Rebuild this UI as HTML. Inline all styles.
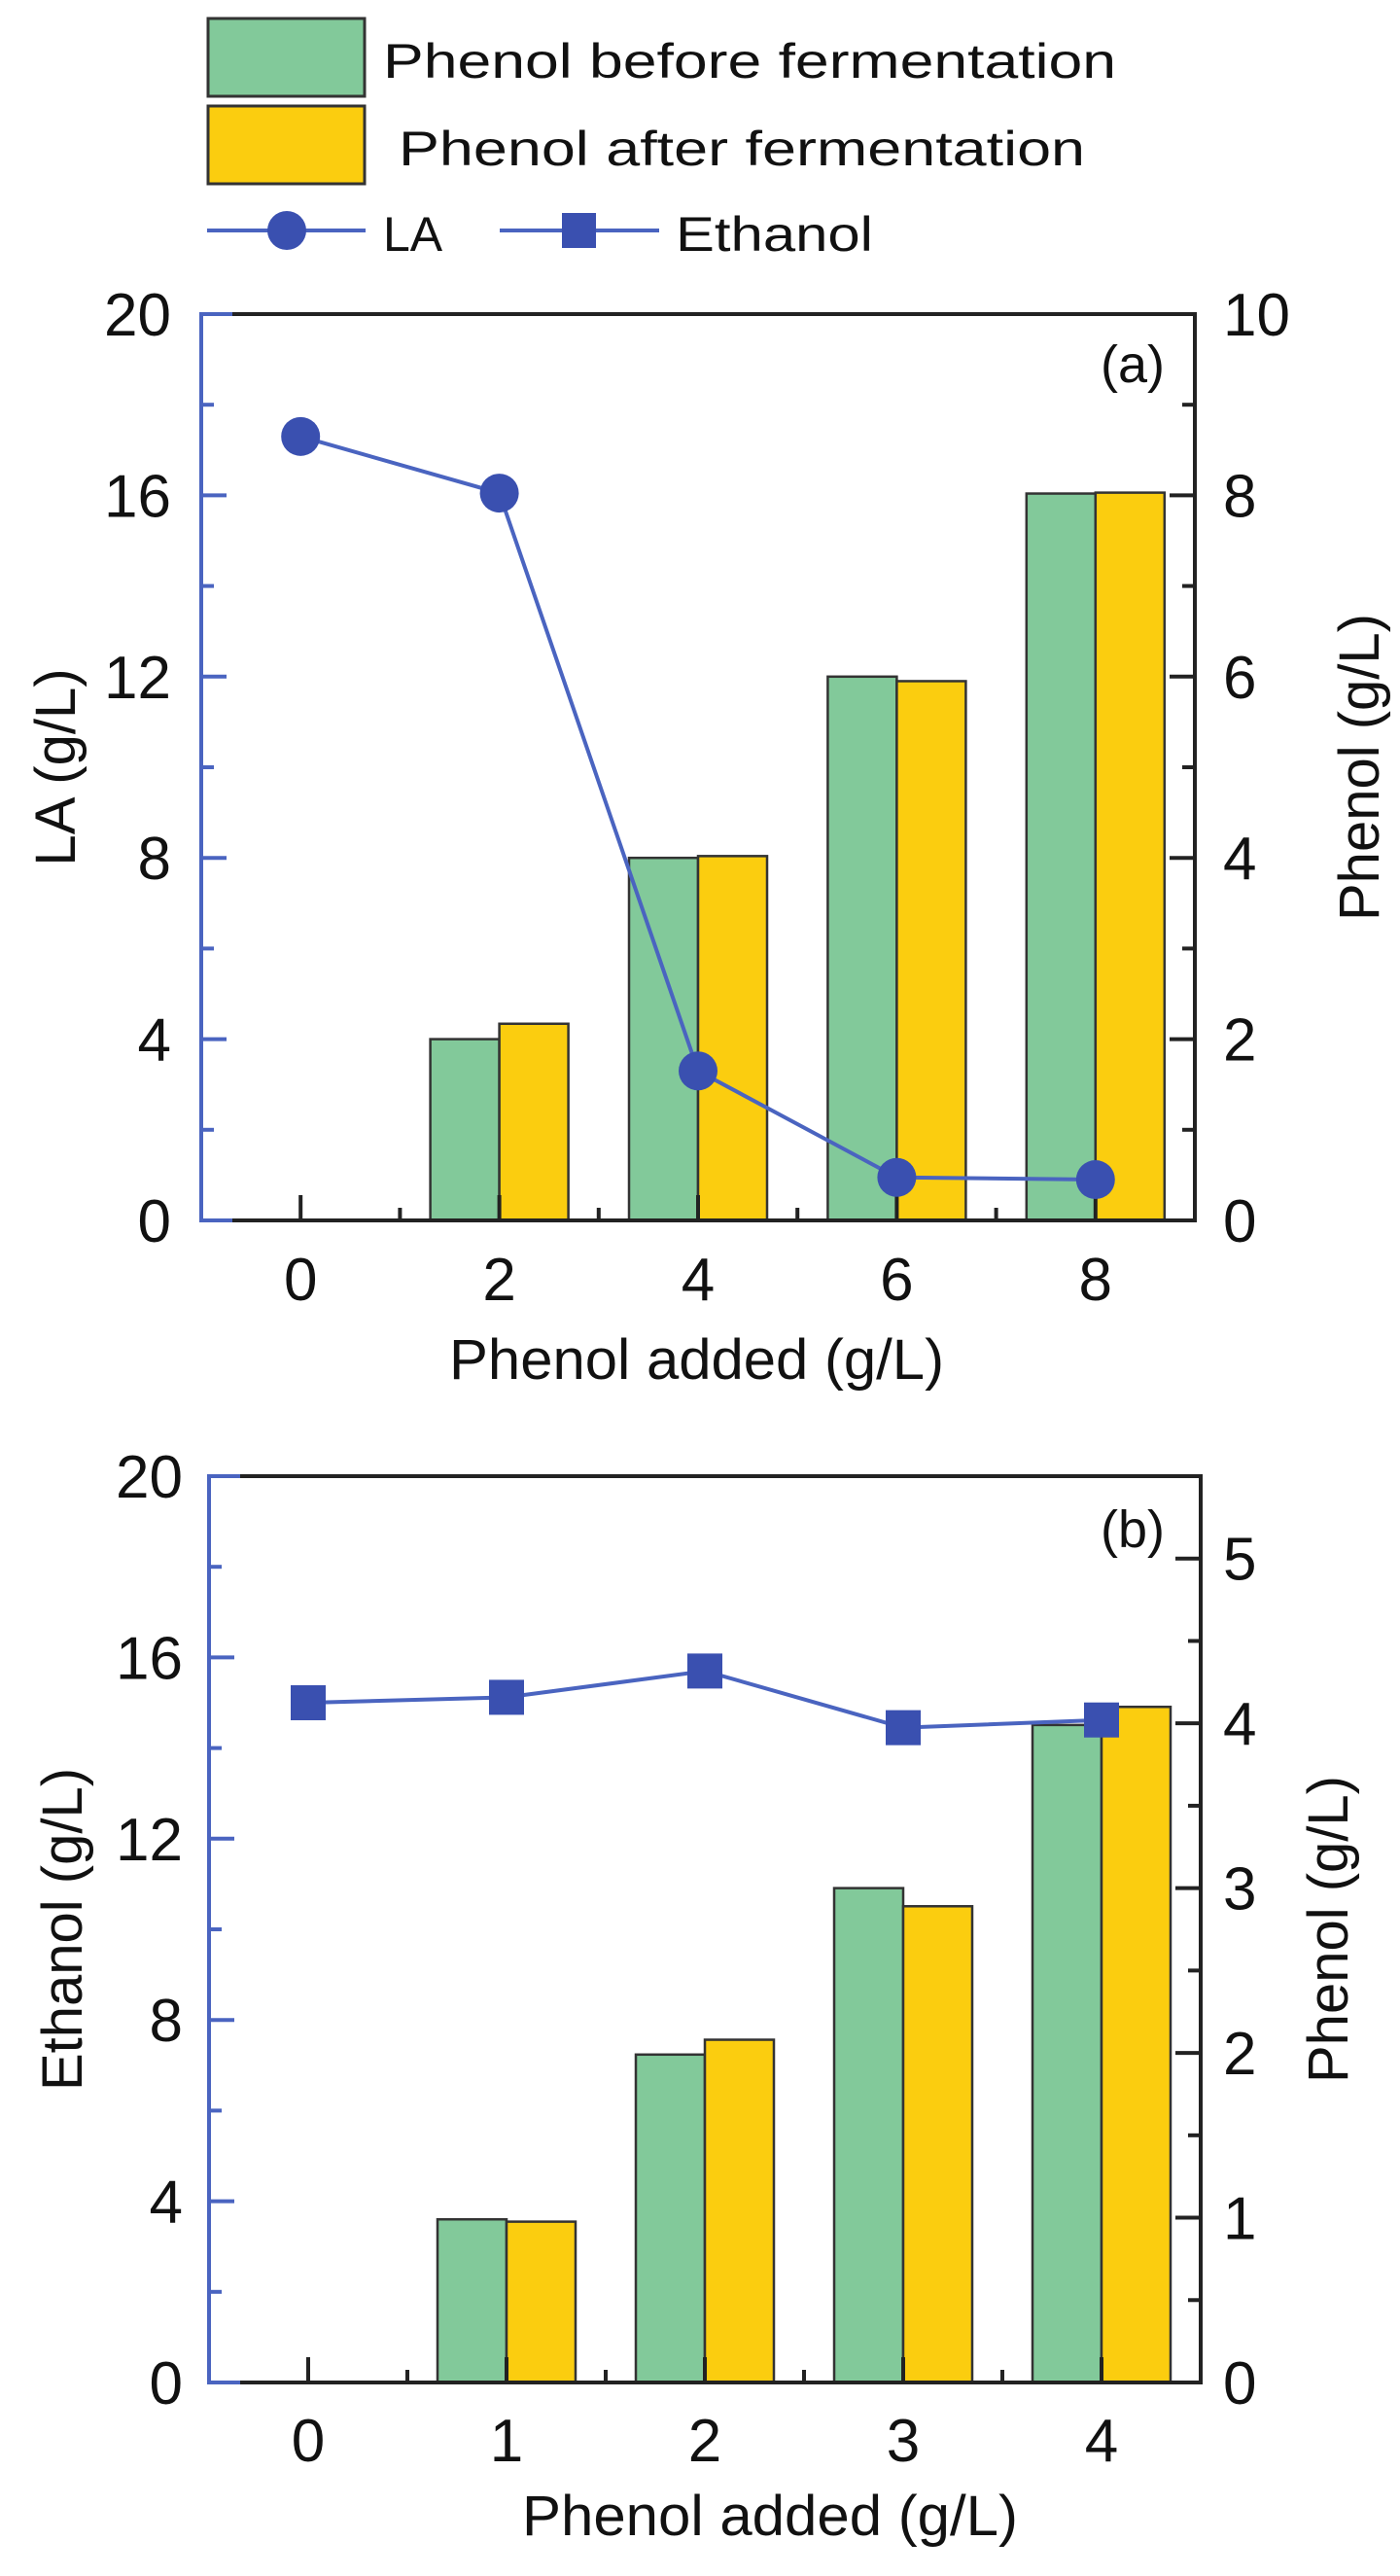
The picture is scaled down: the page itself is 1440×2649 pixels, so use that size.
<!DOCTYPE html>
<html><head><meta charset="utf-8"><style>
html,body{margin:0;padding:0;background:#fff}
svg{display:block}
text{font-family:"Liberation Sans",sans-serif;fill:#111}
</style></head><body>
<svg id="fig" width="1440" height="2649" viewBox="0 0 1440 2649" xmlns="http://www.w3.org/2000/svg">
<g>
 <rect x="214" y="19" width="161" height="80" fill="#82c99a" stroke="#333" stroke-width="3"/>
 <text x="394" y="80" font-size="50" textLength="754" lengthAdjust="spacingAndGlyphs">Phenol before fermentation</text>
 <rect x="214" y="109" width="161" height="80" fill="#fbcd0f" stroke="#333" stroke-width="3"/>
 <text x="410" y="170" font-size="50" textLength="706" lengthAdjust="spacingAndGlyphs">Phenol after fermentation</text>
 <line x1="213" y1="237" x2="376" y2="237" stroke="#4a64c0" stroke-width="4"/>
 <circle cx="295" cy="237" r="20" fill="#3a50b0"/>
 <text x="394" y="258" font-size="50">LA</text>
 <line x1="514" y1="237" x2="678" y2="237" stroke="#4a64c0" stroke-width="4"/>
 <rect x="578" y="219" width="35" height="36" fill="#3a50b0"/>
 <text x="695" y="258" font-size="50" textLength="203" lengthAdjust="spacingAndGlyphs">Ethanol</text>
</g>
<g id="chartA"></g>
<g id="chartB"></g>
</svg>
<script>
// Panel (a)
const catsA = ["0","2","4","6","8"];
const laA = [17.3, 16.05, 3.3, 0.95, 0.9];
const beforeA = [0, 2.0, 4.0, 6.0, 8.02];
const afterA = [0, 2.17, 4.02, 5.95, 8.03];
const leftTicksA = [0,4,8,12,16,20];
const rightTicksA = [0,2,4,6,8,10];
// Panel (b)
const catsB = ["0","1","2","3","4"];
const ethB = [15.0, 15.12, 15.7, 14.45, 14.62];
const beforeB = [0, 0.99, 1.99, 3.0, 3.99];
const afterB = [0, 0.976, 2.08, 2.89, 4.1];
const leftTicksB = [0,4,8,12,16,20];
const rightTicksB = [0,1,2,3,4,5];

const NS = "http://www.w3.org/2000/svg";
function mk(parent, tag, attrs, txt){
  const e = document.createElementNS(NS, tag);
  for (const k in attrs) e.setAttribute(k, attrs[k]);
  if (txt !== undefined) e.textContent = txt;
  parent.appendChild(e);
  return e;
}

function drawChart(g, cfg){
  const {L,R,T,B,cats,line,before,after,lMax,rMax,lTicks,rTicks,lMinor,rMinor,marker,label,yTitle,yTitleX,rTitleX,leftLabelX,xLabelY,xTitleY,xTitleX1,xTitleW,labelY,prefix} = cfg;
  const xs = i => L + (i + 0.5) * (R - L) / cats.length;
  const yl = v => B - v / lMax * (B - T);
  const yr = v => B - v / rMax * (B - T);
  const bw = 71;
  // bars
  for (let i = 0; i < cats.length; i++){
    if (before[i] > 0){
      const r1 = mk(g, "rect", {x: xs(i) - bw, y: yr(before[i]), width: bw, height: B - yr(before[i]), fill: "#82c99a", stroke: "#333", "stroke-width": 2.5});
      
      
    }
    if (after[i] > 0){
      const r2 = mk(g, "rect", {x: xs(i), y: yr(after[i]), width: bw, height: B - yr(after[i]), fill: "#fbcd0f", stroke: "#333", "stroke-width": 2.5});
      
      
    }
  }
  // axes frame
  const fr = mk(g, "path", {d: `M${L+30} ${T} H${R} V${B} H${L+30}`, fill: "none", stroke: "#222", "stroke-width": 4});
  
  
  const la = mk(g, "path", {d: `M${L+32} ${T} H${L} V${B} H${L+32}`, fill: "none", stroke: "#4a64c0", "stroke-width": 4});
  
  
  // left ticks
  for (let v = 0; v <= lMax + 1e-9; v += lMinor){
    const major = lTicks.some(t => Math.abs(t - v) < 1e-9);
    const tk = mk(g, "line", {x1: L, x2: L + (major ? 26 : 13), y1: yl(v), y2: yl(v), stroke: "#4a64c0", "stroke-width": 4});
    
    
  }
  lTicks.forEach(v => {
    const t = mk(g, "text", {x: leftLabelX, y: yl(v) + 22, "font-size": 62, "text-anchor": "end"}, String(v));
    
    
  });
  // right ticks
  for (let v = 0; v <= rMax + 1e-9; v += rMinor){
    const major = rTicks.some(t => Math.abs(t - v) < 1e-9);
    const tk = mk(g, "line", {x1: R, x2: R - (major ? 26 : 13), y1: yr(v), y2: yr(v), stroke: "#222", "stroke-width": 4});
    
    
  }
  rTicks.forEach(v => {
    const t = mk(g, "text", {x: 1258, y: yr(v) + 22, "font-size": 62}, String(v));
    
    
  });
  // x ticks
  for (let i = 0; i < cats.length; i++){
    const tk = mk(g, "line", {x1: xs(i), x2: xs(i), y1: B, y2: B - 26, stroke: "#222", "stroke-width": 4});
    
    
    if (i < cats.length - 1){
      const m = mk(g, "line", {x1: (xs(i)+xs(i+1))/2, x2: (xs(i)+xs(i+1))/2, y1: B, y2: B - 13, stroke: "#222", "stroke-width": 4});
      
      
    }
    const t = mk(g, "text", {x: xs(i), y: xLabelY, "font-size": 62, "text-anchor": "middle"}, cats[i]);
    
    
  }
  // line series
  const pts = line.map((v, i) => xs(i) + "," + yl(v)).join(" ");
  const pl = mk(g, "polyline", {points: pts, fill: "none", stroke: "#4a64c0", "stroke-width": 4});
  
  
  line.forEach((v, i) => {
    let m;
    if (marker === "circle") m = mk(g, "circle", {cx: xs(i), cy: yl(v), r: 20, fill: "#3a50b0"});
    else m = mk(g, "rect", {x: xs(i) - 18, y: yl(v) - 18, width: 36, height: 36, fill: "#3a50b0"});
    
    
  });
  // labels
  const pl2 = mk(g, "text", {x: 1198, y: labelY, "font-size": 54, "text-anchor": "end"}, label);
  
  
  const cy = (T + B) / 2;
  const yt = mk(g, "text", {x: yTitleX, y: cy, "font-size": 58, "text-anchor": "middle", transform: `rotate(-90 ${yTitleX} ${cy})`, dy: 20}, yTitle);
  
  
  const rt = mk(g, "text", {x: rTitleX, y: cy, "font-size": 58, "text-anchor": "middle", transform: `rotate(-90 ${rTitleX} ${cy})`, dy: 20}, "Phenol (g/L)");
  
  
  const xt = mk(g, "text", {x: xTitleX1, y: xTitleY, "font-size": 58, textLength: xTitleW, lengthAdjust: "spacingAndGlyphs"}, "Phenol added (g/L)");
  
  
}

drawChart(document.getElementById("chartA"), {
  L:207, R:1229, T:323, B:1255, cats:catsA, line:laA, before:beforeA, after:afterA,
  lMax:20, rMax:10, lTicks:leftTicksA, rTicks:rightTicksA, lMinor:2, rMinor:1,
  marker:"circle", label:"(a)", yTitle:"LA (g/L)", yTitleX:57, rTitleX:1398,
  leftLabelX:176, xLabelY:1337, xTitleY:1418, xTitleX1:462, xTitleW:509, labelY:393, prefix:"a"
});
drawChart(document.getElementById("chartB"), {
  L:215, R:1235, T:1518, B:2450, cats:catsB, line:ethB, before:beforeB, after:afterB,
  lMax:20, rMax:5.5, lTicks:leftTicksB, rTicks:rightTicksB, lMinor:2, rMinor:0.5,
  marker:"square", label:"(b)", yTitle:"Ethanol (g/L)", yTitleX:64, rTitleX:1366,
  leftLabelX:188, xLabelY:2531, xTitleY:2607, xTitleX1:537, xTitleW:510, labelY:1591, prefix:"b"
});
</script>
</body></html>
